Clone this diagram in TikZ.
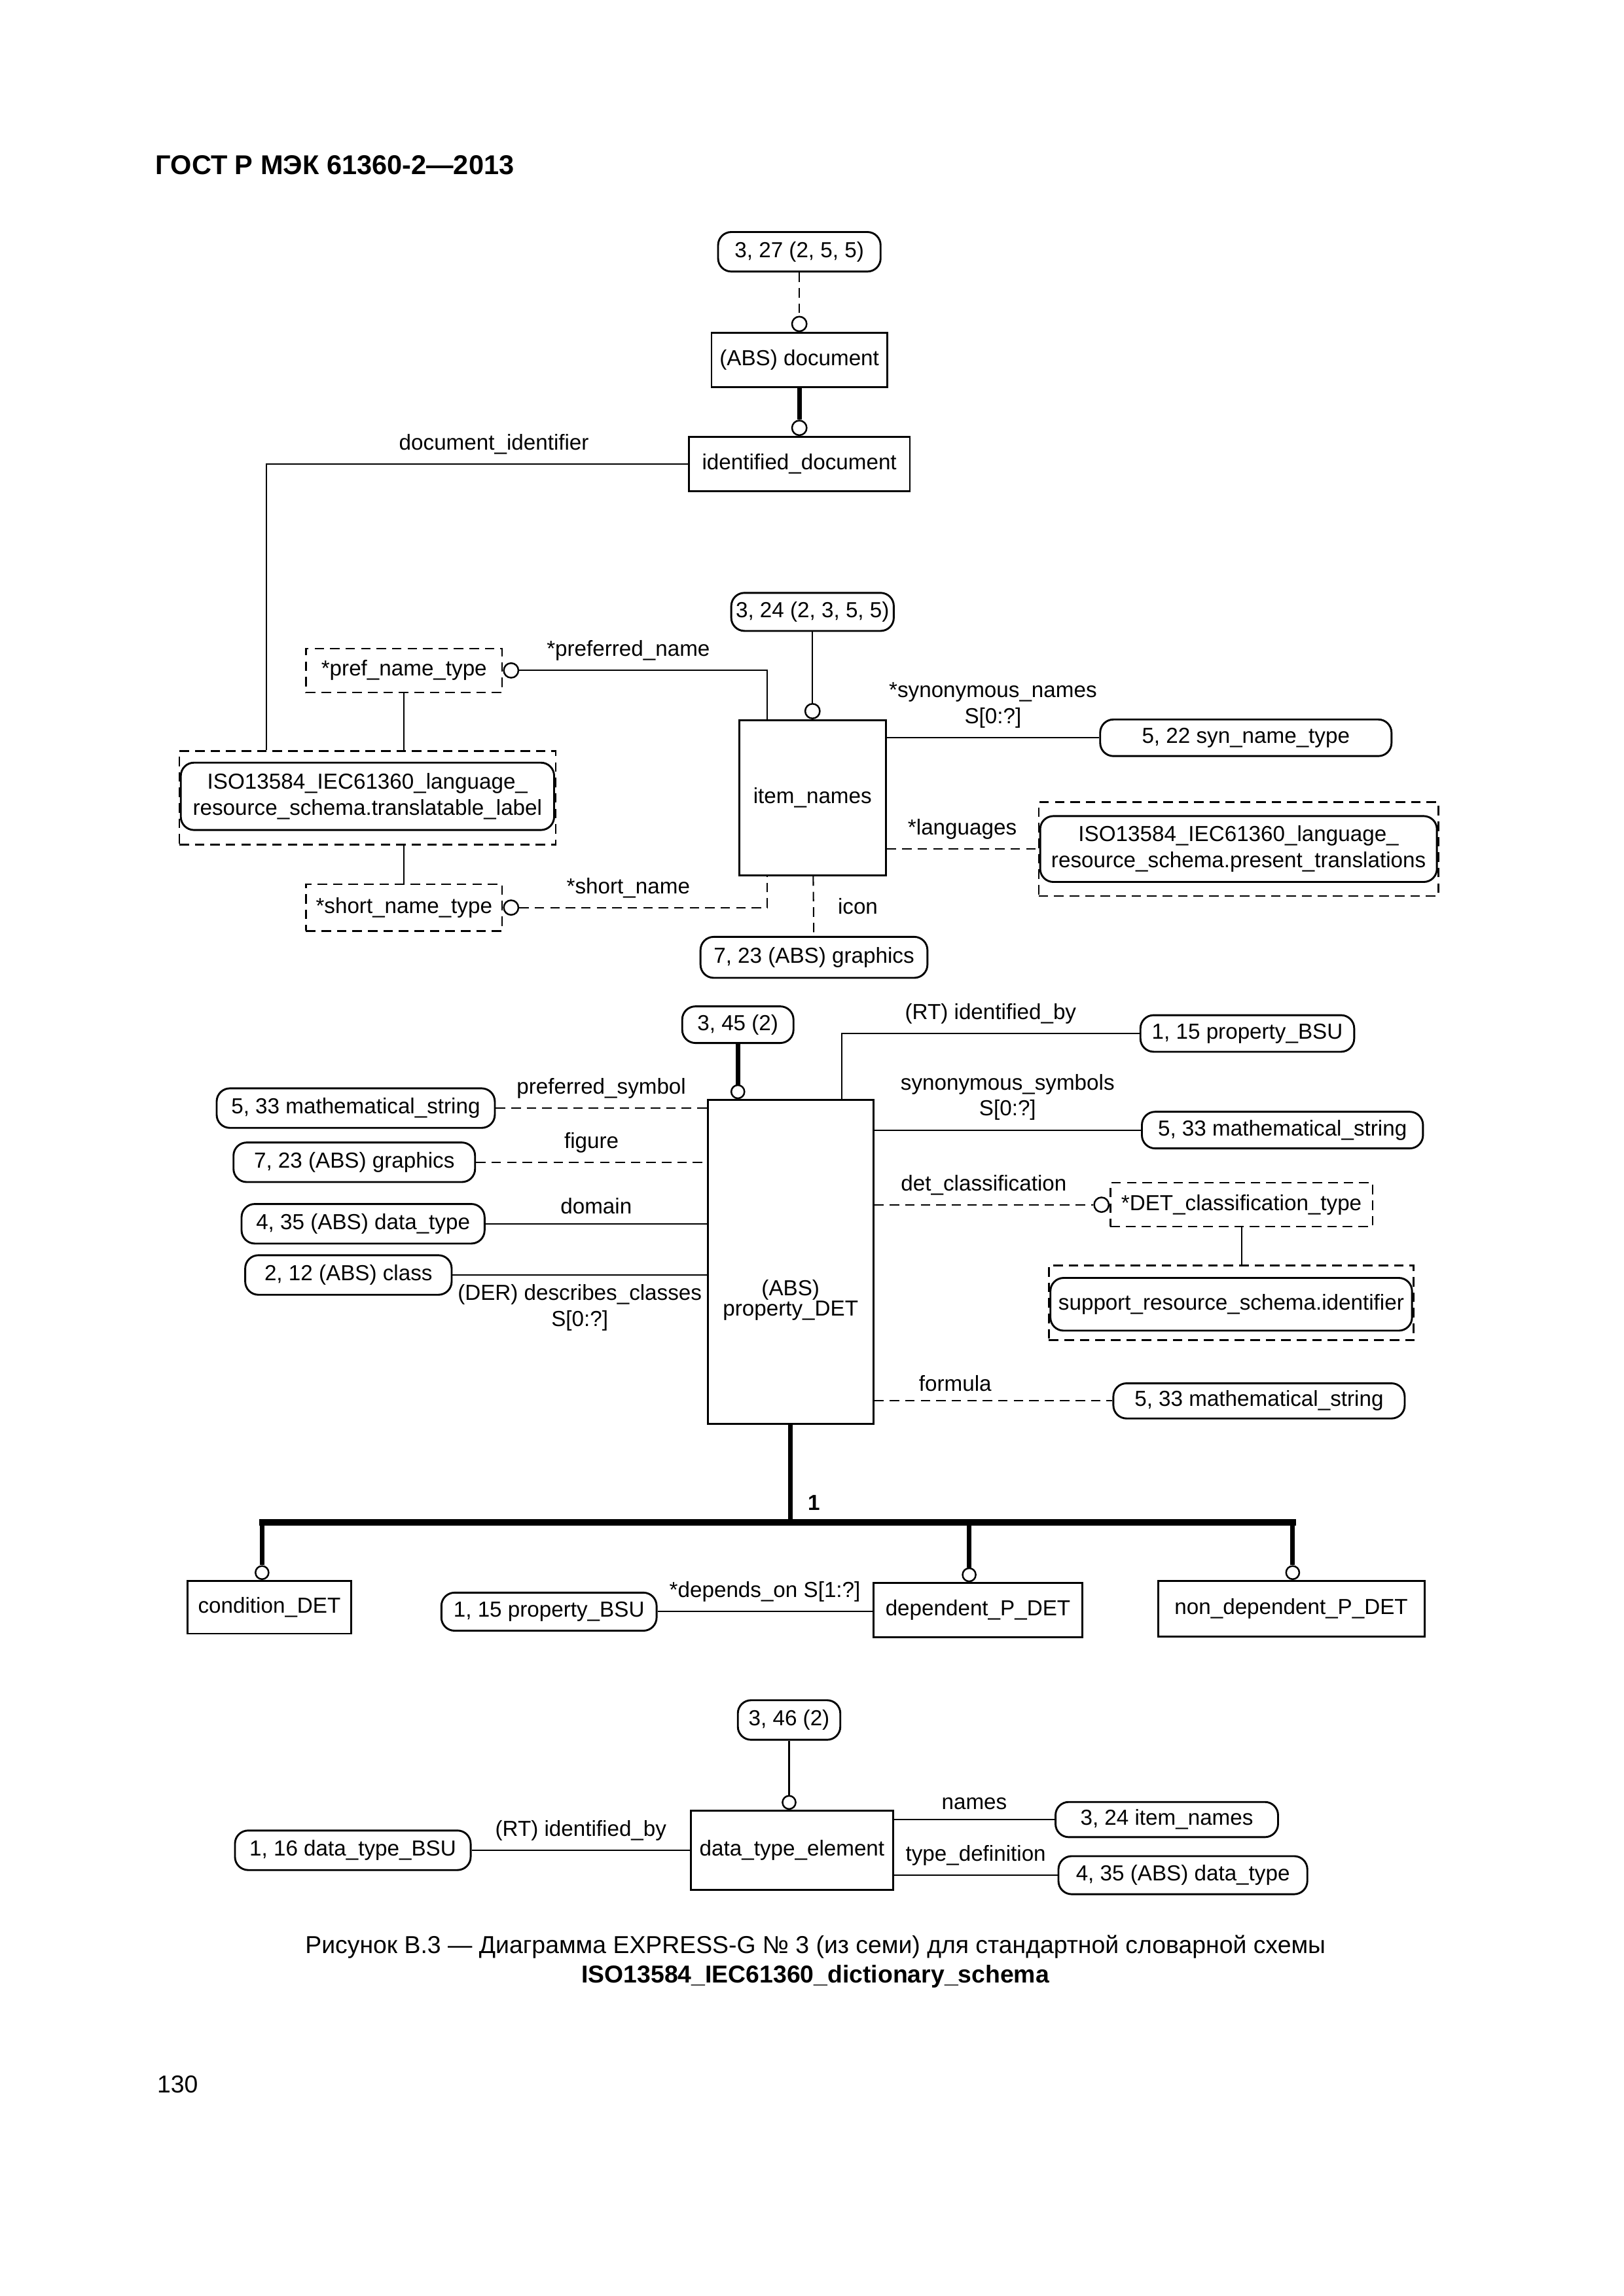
\documentclass[tikz,border=0pt]{standalone}
\usepackage{fontspec}
\setmainfont{Liberation Sans}
\usepackage{tikz}
\usetikzlibrary{positioning}
\newdimen\pxl
\pxl=0.018938cm
\tikzstyle{entite} = [rectangle, draw = black, line width = 0.7pt, text centered, inner sep = 1pt]
\tikzstyle{renvoi} = [rectangle, rounded corners = 9\pxl, draw = black, line width = 0.7pt, text centered, inner sep = 1pt]
\tikzstyle{defini} = [rectangle, draw = black, line width = 0.6pt, dash pattern = on 3.5pt off 2.2pt, text centered, inner sep = 1pt]
\tikzstyle{rond} = [circle, draw = black, fill = white, line width = 0.6pt, inner sep = 0pt, minimum size = 10\pxl]
\tikzstyle{lien} = [line width = 0.5pt]
\tikzstyle{lienpt} = [line width = 0.5pt, dash pattern = on 3.5pt off 2.2pt]
\tikzstyle{gras} = [line width = 1.7pt]
\tikzstyle{barre} = [line width = 2.3pt, line cap = rect]

\begin{document}
\begin{tikzpicture}[x = \pxl, y = -\pxl, node distance = 0pt, font = \fontsize{8}{9.6}\selectfont]

\useasboundingbox (0,0) rectangle (1108.9,1568.5);

\node (0) [anchor = west, inner sep = 0pt, font = \fontsize{10}{12}\selectfont\bfseries] at (106,113) {ГОСТ Р МЭК 61360-2—2013};

\node (1) [renvoi, minimum width = 111\pxl, minimum height = 27\pxl] at (546,172) {3, 27 (2, 5, 5)};
\node (2) [entite, minimum width = 120\pxl, minimum height = 37\pxl] at (546,246) {(ABS) document};
\node (c1) [rond, above = 0pt of 2] {};
\node (3) [entite, minimum width = 151\pxl, minimum height = 37\pxl] at (546,317) {identified\_document};
\node (c2) [rond, above = 0pt of 3] {};

\node (7) [defini, minimum width = 257\pxl, minimum height = 64\pxl] at (251,545) {};
\node (6) [renvoi, minimum width = 255\pxl, minimum height = 46\pxl, align = center] at (251,544)
{ISO13584\_IEC61360\_language\_\\resource\_schema.translatable\_label};

\node (8) [renvoi, minimum width = 111\pxl, minimum height = 26\pxl] at (555,418) {3, 24 (2, 3, 5, 5)};
\node (9) [entite, minimum width = 100\pxl, minimum height = 106\pxl] at (555,545) {item\_names};
\node (c3) [rond, above = 0pt of 9] {};

\node (10) [defini, minimum width = 134\pxl, minimum height = 30\pxl] at (276,458) {*pref\_name\_type};
\node (c4) [rond, right = 0pt of 10] {};
\node (11) [defini, minimum width = 134\pxl, minimum height = 32\pxl] at (276,620) {*short\_name\_type};
\node (c5) [rond, right = 0pt of 11] {};

\node (12) [renvoi, minimum width = 155\pxl, minimum height = 28\pxl] at (556,654) {7, 23 (ABS) graphics};
\node (13) [renvoi, minimum width = 199\pxl, minimum height = 25\pxl] at (851,504) {5, 22 syn\_name\_type};
\node (14) [defini, minimum width = 273\pxl, minimum height = 64\pxl] at (846,580) {};
\node (15) [renvoi, minimum width = 271\pxl, minimum height = 45\pxl, align = center] at (846,580)
{ISO13584\_IEC61360\_language\_\\resource\_schema.present\_translations};

\node (16) [entite, minimum width = 113\pxl, minimum height = 221\pxl] at (540,862) {};
\node (16t) [align = center, font = \fontsize{8}{7.5}\selectfont] at ([yshift = -26\pxl]16.center) {(ABS)\\property\_DET};
\node (17) [renvoi, minimum width = 76\pxl, minimum height = 25\pxl] at (504,700) {3, 45 (2)};
\node (c6) [rond, anchor = south, minimum size = 9\pxl] at ([xshift = -36\pxl]16.north) {};

\node (18) [renvoi, minimum width = 190\pxl, minimum height = 27\pxl] at (243,757) {5, 33 mathematical\_string};
\node (19) [renvoi, minimum width = 165\pxl, minimum height = 27\pxl] at (242,794) {7, 23 (ABS) graphics};
\node (20) [renvoi, minimum width = 166\pxl, minimum height = 27\pxl] at (248,836) {4, 35 (ABS) data\_type};
\node (21) [renvoi, minimum width = 141\pxl, minimum height = 27\pxl] at (238,871) {2, 12 (ABS) class};

\node (22) [renvoi, minimum width = 146\pxl, minimum height = 25\pxl] at (852,706) {1, 15 property\_BSU};
\node (23) [renvoi, minimum width = 192\pxl, minimum height = 25\pxl] at (876,772) {5, 33 mathematical\_string};
\node (24) [defini, minimum width = 179\pxl, minimum height = 30\pxl] at (848,823) {*DET\_classification\_type};
\node (c7) [rond, left = 0pt of 24] {};
\node (25) [defini, minimum width = 249\pxl, minimum height = 51\pxl] at (841,890) {};
\node (26) [renvoi, minimum width = 247\pxl, minimum height = 36\pxl] at (841,891) {support\_resource\_schema.identifier};
\node (27) [renvoi, minimum width = 199\pxl, minimum height = 24\pxl] at (860,957) {5, 33 mathematical\_string};

\coordinate (b1) at (179,1040);
\coordinate (b3) at (662,1040);
\coordinate (b2) at (883,1040);

\node (28) [entite, minimum width = 112\pxl, minimum height = 36\pxl] at (184,1098) {condition\_DET};
\node (29) [entite, minimum width = 143\pxl, minimum height = 37\pxl] at (668,1100) {dependent\_P\_DET};
\node (30) [entite, minimum width = 182\pxl, minimum height = 38\pxl] at (882,1099) {non\_dependent\_P\_DET};
\node (c8) [rond, anchor = south, minimum size = 9\pxl] at (28.north -| b1) {};
\node (c9) [rond, anchor = south, minimum size = 9\pxl] at (29.north -| b3) {};
\node (c10) [rond, anchor = south, minimum size = 9\pxl] at (30.north -| b2) {};
\node (31) [renvoi, minimum width = 147\pxl, minimum height = 26\pxl] at (375,1101) {1, 15 property\_BSU};

\node (32) [renvoi, minimum width = 70\pxl, minimum height = 27\pxl] at (539,1175) {3, 46 (2)};
\node (33) [entite, minimum width = 138\pxl, minimum height = 54\pxl] at (541,1264) {data\_type\_element};
\node (c11) [rond, anchor = south, minimum size = 9\pxl] at (33.north -| 32) {};
\node (34) [renvoi, minimum width = 161\pxl, minimum height = 27\pxl] at (241,1264) {1, 16 data\_type\_BSU};
\node (35) [renvoi, minimum width = 152\pxl, minimum height = 24\pxl] at (797,1243) {3, 24 item\_names};
\node (36) [renvoi, minimum width = 170\pxl, minimum height = 26\pxl] at (808,1281) {4, 35 (ABS) data\_type};

\node (37) [font = \fontsize{9}{11}\selectfont] at (557,1330) {Рисунок В.3 — Диаграмма EXPRESS-G № 3 (из семи) для стандартной словарной схемы};
\node (38) [font = \fontsize{9}{11}\selectfont\bfseries] at (557,1350) {ISO13584\_IEC61360\_dictionary\_schema};
\node (39) [anchor = west, inner sep = 0pt, font = \fontsize{9}{11}\selectfont] at (107,1424) {130};

\draw[lienpt] (1) -- (c1);
\draw[gras] (2) -- (c2);
\draw[lien] (3.west) -| node[pos = 0.23, above] {document\_identifier} ([xshift = 60\pxl]7.north west);

\draw[lien] (8) -- (c3);
\draw[lien] (c4) -| node[pos = 0.22, above] {*preferred\_name} ([xshift = -31\pxl]9.north);
\draw[lien] (10.south) -- (10.south |- 7.north);
\draw[lien] (11.north) -- (11.north |- 7.south);
\draw[lienpt] (c5) -| node[pos = 0.22, above] {*short\_name} ([xshift = -31\pxl]9.south);
\draw[lienpt] (9) -- node[right, xshift = 10\pxl] {icon} (12);
\draw[lien] (9.east |- 13) -- node[above, align = center] {*synonymous\_names\\S[0:?]} (13);
\draw[lienpt] (9.east |- 14.west) -- node[above] {*languages} (14.west);

\draw[gras] (17) -- (c6);
\draw[lienpt] (18) -- node[above] {preferred\_symbol} (18 -| 16.west);
\draw[lienpt] (19) -- node[above] {figure} (19 -| 16.west);
\draw[lien] (20) -- node[above] {domain} (20 -| 16.west);
\draw[lien] (21) -- node[below, align = center] {(DER) describes\_classes\\S[0:?]} (21 -| 16.west);

\draw[lien] ([xshift = 35\pxl]16.north) |- node[pos = 0.75, above] {(RT) identified\_by} (22);
\draw[lien] (16.east |- 23) -- node[above, align = center] {synonymous\_symbols\\S[0:?]} (23);
\draw[lienpt] (16.east |- c7) -- node[above] {det\_classification} (c7);
\draw[lien] (24.south) -- (24.south |- 25.north);
\draw[lienpt] (16.east |- 27) -- node[pos = 0.34, above] {formula} (27);

\draw[gras] (16.south) -- node[pos = 0.8, right, xshift = 4\pxl, font = \fontsize{8}{9.6}\selectfont\bfseries] {1} (16.south |- b1);
\draw[barre] (b1) -- (b2);
\draw[gras] (b1) -- (c8);
\draw[gras] (b3) -- (c9);
\draw[gras] (b2) -- (c10);
\draw[lien] (31) -- node[above] {*depends\_on S[1:?]} (31 -| 29.west);

\draw[lien] (32) -- (c11);
\draw[lien] (34) -- node[above] {(RT) identified\_by} (33);
\draw[lien] (33.east |- 35) -- node[above] {names} (35);
\draw[lien] (33.east |- 36) -- node[above] {type\_definition} (36);

\end{tikzpicture}
\end{document}
